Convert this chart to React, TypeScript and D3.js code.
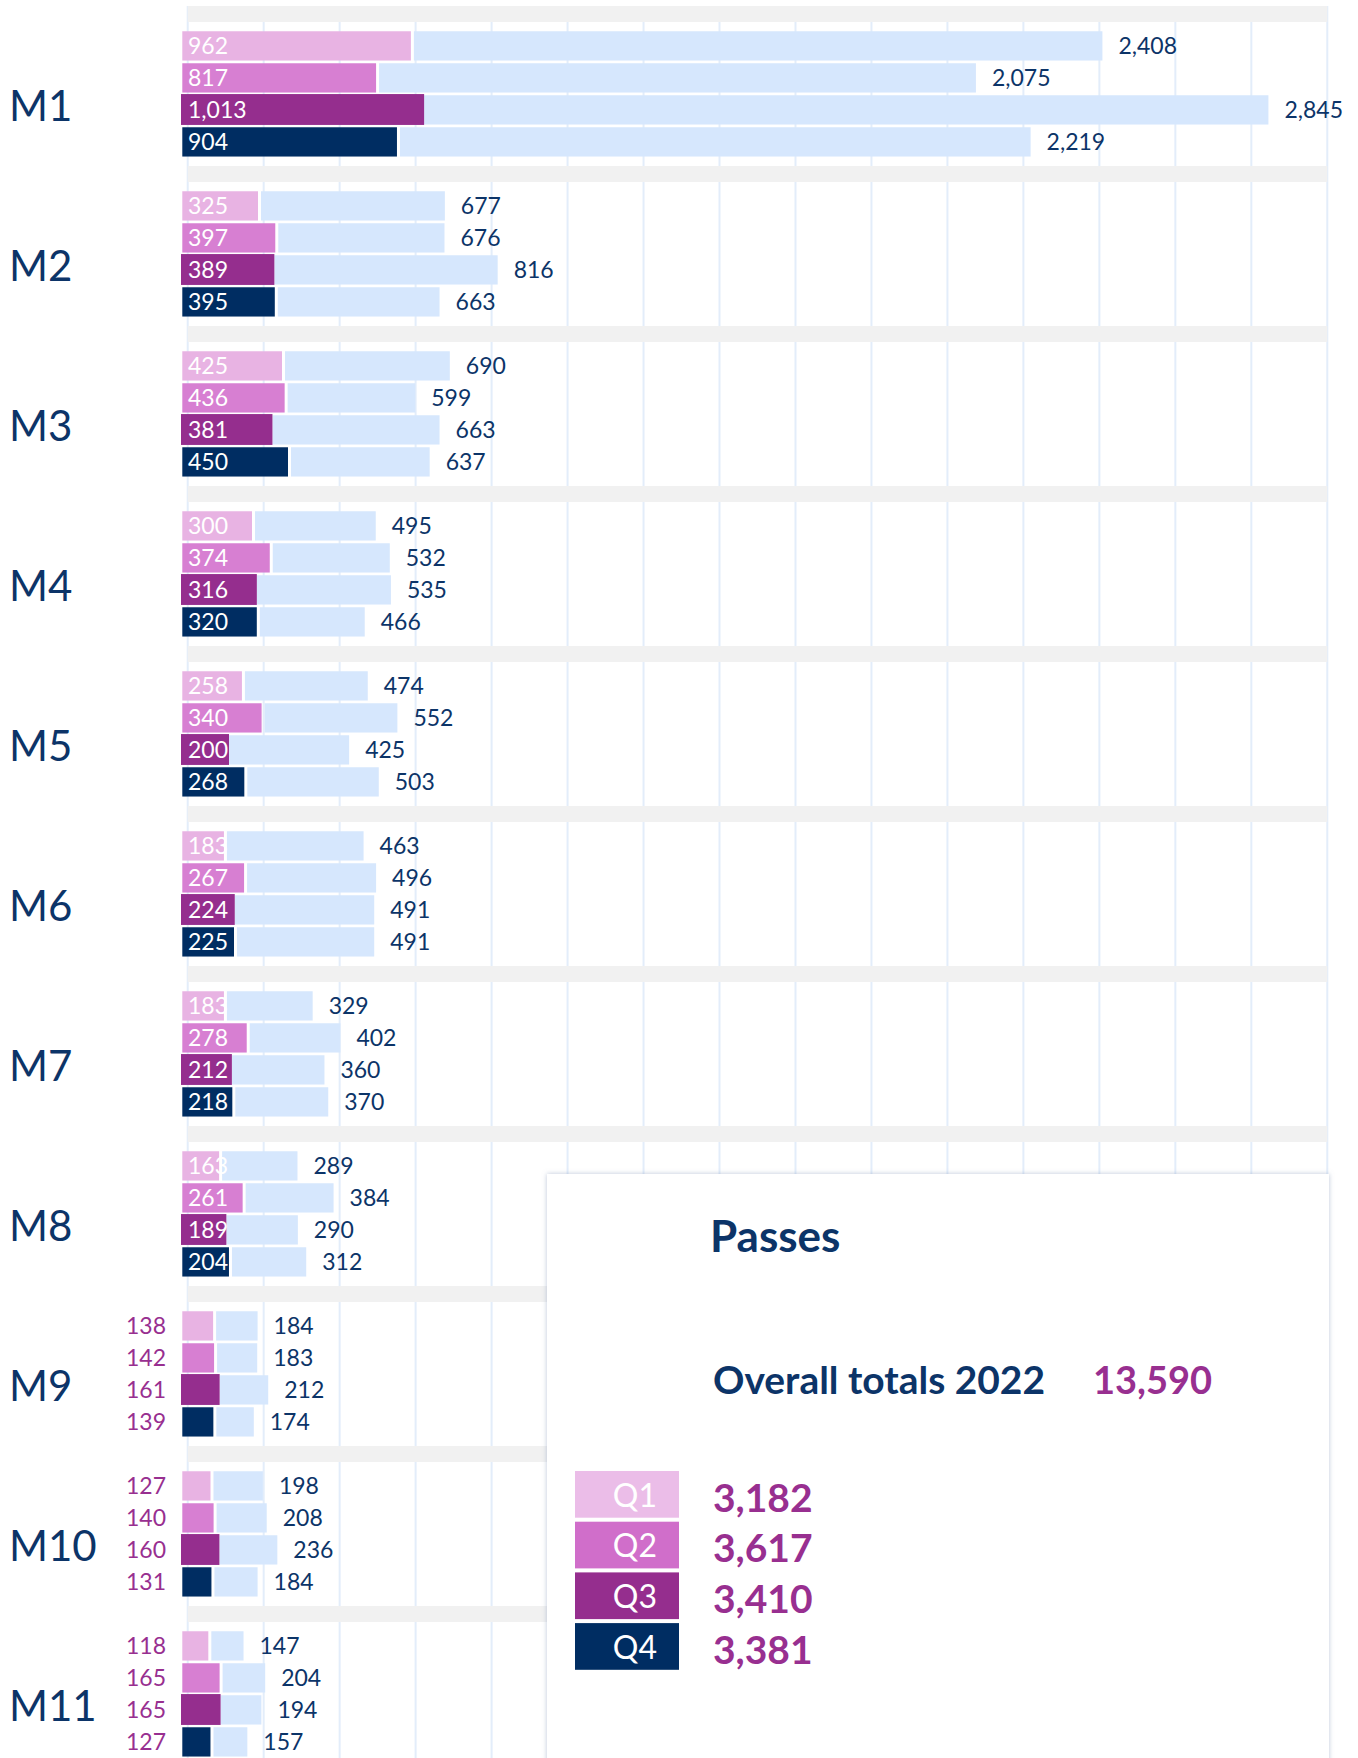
import React from "react";
import * as d3 from "d3";

const categories = ["M1", "M2", "M3", "M4", "M5", "M6", "M7", "M8", "M9", "M10", "M11"];
const quarters = ["Q1", "Q2", "Q3", "Q4"];

const q1Values = [962, 325, 425, 300, 258, 183, 183, 163, 138, 127, 118];
const q2Values = [817, 397, 436, 374, 340, 267, 278, 261, 142, 140, 165];
const q3Values = [1013, 389, 381, 316, 200, 224, 212, 189, 161, 160, 165];
const q4Values = [904, 395, 450, 320, 268, 225, 218, 204, 139, 131, 127];

const q1Totals = [2408, 677, 690, 495, 474, 463, 329, 289, 184, 198, 147];
const q2Totals = [2075, 676, 599, 532, 552, 496, 402, 384, 183, 208, 204];
const q3Totals = [2845, 816, 663, 535, 425, 491, 360, 290, 212, 236, 194];
const q4Totals = [2219, 663, 637, 466, 503, 491, 370, 312, 174, 184, 157];

const title = "Passes";
const overallLabel = "Overall totals 2022";

const qValues = [q1Values, q2Values, q3Values, q4Values];
const qTotals = [q1Totals, q2Totals, q3Totals, q4Totals];

const barColors = ["#e8b3e3", "#d77fd2", "#952e8e", "#002d62"];
const legendColors = ["#ebbde8", "#d06eca", "#952e8e", "#002d62"];
const lightBlue = "#d6e7fd";
const navy = "#0c3468";
const purple = "#982f90";
const FONT = "Lato, 'Noto Sans', sans-serif";

export default function App() {
  const W = 1358;
  const H = 1758;
  const x = d3.scaleLinear().domain([0, 3000]).range([187.7, 1327.3]);
  const xQ = d3.scaleLinear().domain([0, 4750]).range([180, 1320]);
  const yGroup = d3.scaleBand().domain(categories).range([6, 6 + 160 * categories.length]);
  const yRow = d3
    .scaleBand()
    .domain(quarters)
    .range([23.9, 151.9])
    .paddingInner(0.085)
    .paddingOuter(0.0425);
  const fmt = d3.format(",");
  const ticks = x.ticks(15);
  const bw = yRow.bandwidth();

  const legendTotals = qValues.map((arr) => d3.sum(arr));
  const grand = d3.sum(legendTotals);

  return (
    <div style={{ position: "absolute", left: 0, top: 0 }}>
      <svg width={W} height={H} style={{ display: "block" }}>
        <defs>
          <filter id="boxShadow" x="-5%" y="-5%" width="110%" height="110%">
            <feDropShadow dx="0" dy="0" stdDeviation="2.5" floodColor="#7d8fb0" floodOpacity="0.5" />
          </filter>
        </defs>
        <rect x={0} y={0} width={W} height={H} fill="#ffffff" />
        {ticks.map((t) => (
          <line key={t} x1={x(t)} x2={x(t)} y1={6} y2={H} stroke="#e3edfa" strokeWidth={2} />
        ))}
        {categories.map((c) => (
          <rect key={"band" + c} x={x(0)} y={yGroup(c)!} width={x(3000) - x(0)} height={16} fill="#f1f1f1" />
        ))}
        {categories.map((c, ci) => {
          const g0 = yGroup(c)!;
          const inside = (d3.max(qValues.map((a) => a[ci])) as number) >= 200;
          return (
            <g key={c}>
              <text x={9} y={g0 + 114.7} fontFamily={FONT} fontSize={42} fill={navy}>
                {c}
              </text>
              {quarters.map((q, qi) => {
                const v = qValues[qi][ci];
                const tot = qTotals[qi][ci];
                const y0 = g0 + yRow(q)!;
                const isQ3 = qi === 2;
                const cEnd = xQ(v);
                const lbStart = isQ3 ? cEnd + 1 : cEnd + 3;
                const cy = y0 + bw / 2;
                return (
                  <g key={q}>
                    <rect x={lbStart} y={y0} width={Math.max(0, x(tot) - lbStart)} height={bw} fill={lightBlue} />
                    {isQ3 ? (
                      <rect x={181} y={y0 - 1.2} width={cEnd + 1 - 181} height={bw + 1.6} fill={barColors[qi]} />
                    ) : (
                      <rect x={182.3} y={y0} width={cEnd - 182.3} height={bw} fill={barColors[qi]} />
                    )}
                    {inside ? (
                      <text x={188} y={cy + 8.3} fontFamily={FONT} fontSize={23} fill="#ffffff">
                        {fmt(v)}
                      </text>
                    ) : (
                      <text x={166} y={cy + 8.3} textAnchor="end" fontFamily={FONT} fontSize={23} fill={purple}>
                        {fmt(v)}
                      </text>
                    )}
                    <text x={x(tot) + 16} y={cy + 8.3} fontFamily={FONT} fontSize={23} fill={navy}>
                      {fmt(tot)}
                    </text>
                  </g>
                );
              })}
            </g>
          );
        })}
        <rect x={547} y={1174} width={782} height={700} fill="#ffffff" filter="url(#boxShadow)" />
        <text x={710} y={1251.7} fontFamily={FONT} fontWeight={700} fontSize={44} fill={navy}>
          {title}
        </text>
        <text
          x={713}
          y={1394}
          fontFamily={FONT}
          fontWeight={700}
          fontSize={38}
          fill={navy}
          textLength={332}
          lengthAdjust="spacingAndGlyphs"
        >
          {overallLabel}
        </text>
        <text x={1093} y={1394} fontFamily={FONT} fontWeight={700} fontSize={38} fill={purple}>
          {fmt(grand)}
        </text>
        {quarters.map((q, qi) => {
          const ly = 1471 + qi * 50.7;
          return (
            <g key={"leg" + q}>
              <rect x={575} y={ly} width={104} height={46.7} fill={legendColors[qi]} />
              <text x={657} y={ly + 35.7} textAnchor="end" fontFamily={FONT} fontSize={32} fill="#ffffff">
                {q}
              </text>
              <text x={713} y={ly + 40.7} fontFamily={FONT} fontWeight={700} fontSize={39} fill={purple}>
                {fmt(legendTotals[qi])}
              </text>
            </g>
          );
        })}
      </svg>
    </div>
  );
}
